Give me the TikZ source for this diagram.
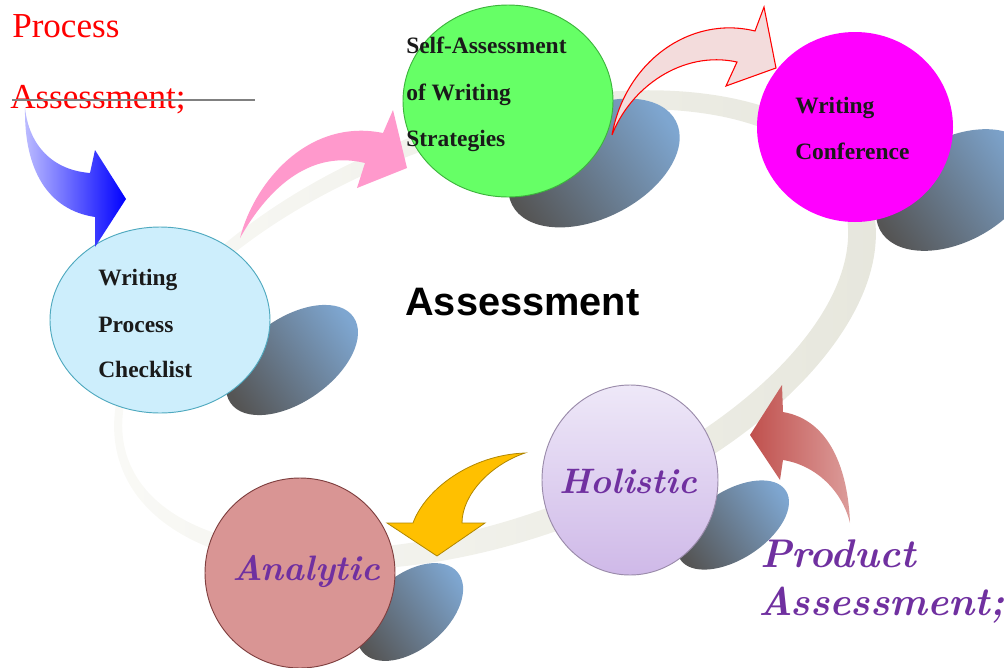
\documentclass[tikz,border=0pt]{standalone}
\usepackage{fontspec}
\newfontfamily\garafont{Liberation Serif}
\newfontfamily\headfont{Liberation Sans}
\usetikzlibrary{shapes.geometric}

\definecolor{ringlight}{HTML}{FAFAF7}
\definecolor{ringdark}{HTML}{E6E6DC}
\definecolor{shdark}{HTML}{555555}
\definecolor{shblue}{HTML}{7EA6D0}
\definecolor{wpcfill}{HTML}{CDEEFC}
\definecolor{wpcline}{HTML}{4FA9BF}
\definecolor{greenfill}{HTML}{66FF66}
\definecolor{greenline}{HTML}{3CB43C}
\definecolor{pinkfill}{HTML}{FF00FF}
\definecolor{holtop}{HTML}{EEE8F8}
\definecolor{holbot}{HTML}{CFB9E8}
\definecolor{holline}{HTML}{9A8BAA}
\definecolor{anafill}{HTML}{D99594}
\definecolor{analine}{HTML}{7F3F3F}
\definecolor{pinkarrow}{HTML}{FF99CC}
\definecolor{palepink}{HTML}{F3DCDC}
\definecolor{orangearrow}{HTML}{FFC000}
\definecolor{orangeline}{HTML}{B08600}
\definecolor{rustdark}{HTML}{C0504D}
\definecolor{rustlight}{HTML}{DC9C9A}
\definecolor{bluelight}{HTML}{BDBDFF}
\definecolor{purpletext}{HTML}{7030A0}
\definecolor{labelink}{HTML}{1A1A1A}

\tikzset{
  bubble/.style={ellipse, inner sep=0pt, line width=0.7pt},
  shadowblob/.style={bottom color=shdark, top color=shblue, shading angle=-55},
  linelabel/.style={anchor=base west, inner sep=0pt, text=labelink,
    font=\garafont\bfseries\fontsize{17.6}{20}\selectfont},
  redtitle/.style={anchor=base west, inner sep=0pt, text=red,
    font=\garafont\fontsize{26.3}{28}\selectfont},
  purplesmall/.style={anchor=base, inner sep=0pt, text=purpletext,
    font=\bfseries\itshape\fontsize{26.5}{28}\selectfont},
  purplebig/.style={anchor=base west, inner sep=0pt, text=purpletext,
    font=\bfseries\itshape\fontsize{30}{32}\selectfont},
}

\begin{document}
\begin{tikzpicture}[x=0.75pt,y=-0.75pt]
\useasboundingbox (0,0) rectangle (1004,668);
\clip (0,0) rectangle (1004,668);

% the cycle ring, thicker on the far side
\path[even odd rule, left color=ringlight, right color=ringdark,
      rotate around={20:(495,330)}]
  (495,330) ellipse [x radius=398, y radius=210]
  (486,326) ellipse [x radius=380, y radius=189];

% cast shadows of the bubbles
\path[shadowblob, rotate around={35:(292,360)}] (292,360) ellipse [x radius=75, y radius=42];
\path[shadowblob, rotate around={27:(594,163)}] (594,163) ellipse [x radius=92, y radius=55];
\path[shadowblob, rotate around={28:(955,190)}] (955,190) ellipse [x radius=85, y radius=52];
\path[shadowblob, rotate around={33:(733,525)}] (733,525) ellipse [x radius=63, y radius=34];
\path[shadowblob, rotate around={40:(410,612)}] (410,612) ellipse [x radius=62, y radius=37];

% bubbles
\node[bubble, fill=wpcfill, draw=wpcline, minimum width=165pt, minimum height=139.5pt] (wpc) at (160,320) {};
\node[bubble, fill=greenfill, draw=greenline, minimum width=157.5pt, minimum height=144pt] (selfa) at (508,101) {};
\node[bubble, fill=pinkfill, minimum width=147pt, minimum height=142.5pt] (conf) at (855,127) {};
\node[bubble, top color=holtop, bottom color=holbot, draw=holline, minimum width=132pt, minimum height=142.5pt] (holi) at (630,480) {};
\node[bubble, fill=anafill, draw=analine, minimum width=142.5pt, minimum height=142.5pt] (anal) at (300,573) {};

% curved block arrows
\path[left color=bluelight, right color=blue]
  (25,108) .. controls (29,145) and (52,170) .. (90,173) -- (95,150) -- (126,199)
  -- (95,247) -- (95,217) .. controls (48,210) and (24,170) .. (25,108) -- cycle;
\fill[pinkarrow]
  (240,238) .. controls (255,180) and (310,118) .. (383,133) -- (393,110) -- (407,168)
  -- (357,188) -- (365,163) .. controls (312,150) and (270,185) .. (240,238) -- cycle;
\filldraw[fill=palepink, draw=red, line width=0.8pt]
  (612,135) .. controls (625,62) and (690,15) .. (755,31) -- (764,7) -- (776,68)
  -- (726,86) -- (737,62) .. controls (682,50) and (630,88) .. (612,135) -- cycle;
\filldraw[fill=orangearrow, draw=orangeline, line width=0.6pt]
  (525,453) .. controls (470,455) and (425,490) .. (413,523) -- (387,523) -- (437,556)
  -- (485,523) -- (462,523) .. controls (462,495) and (490,465) .. (525,453) -- cycle;
\path[left color=rustdark, right color=rustlight]
  (850,523) .. controls (848,470) and (830,420) .. (783,412) -- (782,385) -- (750,435)
  -- (780,480) -- (783,460) .. controls (815,465) and (842,490) .. (850,523) -- cycle;

% bubble texts
\node[linelabel] (wpc1) at (98,285) {Writing};
\node[linelabel] (wpc2) at (98,332) {Process};
\node[linelabel] (wpc3) at (98,377) {Checklist};
\node[linelabel] (sa1) at (406,53) {Self-Assessment};
\node[linelabel] (sa2) at (406,100) {of Writing};
\node[linelabel] (sa3) at (406,146) {Strategies};
\node[linelabel] (wc1) at (795,113) {Writing};
\node[linelabel] (wc2) at (795,159) {Conference};
\node[purplesmall] (holtext) at (628,493) {Holistic};
\node[purplesmall] (anatext) at (306,580) {Analytic};

% centre title
\node[anchor=base west, inner sep=0pt, font=\headfont\bfseries\fontsize{29.8}{32}\selectfont] (title) at (405,315) {Assessment};

% side headings
\node[redtitle] (pa1) at (12,37) {Process};
\node[redtitle] (pa2) at (10,108) {Assessment;};
\coordinate (strikestart) at (12,100);
\coordinate (strikeend) at (255,100);
\draw[gray, line width=1pt] (strikestart) -- (strikeend);
\node[purplebig] (prod1) at (760,567) {Product};
\node[purplebig] (prod2) at (758,615) {Assessment;};
\end{tikzpicture}
\end{document}
